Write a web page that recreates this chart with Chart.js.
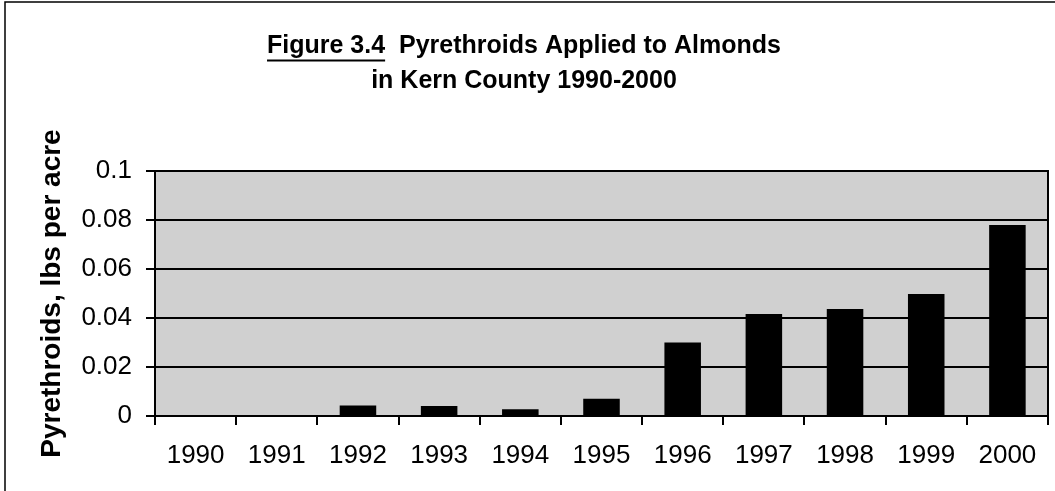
<!DOCTYPE html>
<html>
<head>
<meta charset="utf-8">
<title>Figure 3.4</title>
<script src="https://cdn.jsdelivr.net/npm/chart.js@4.4.0/dist/chart.umd.min.js"></script>
<style>
    body { margin: 0; background: #fff; }
    #contenedor { width: 1055px; height: 491px; position: relative; }
</style>
</head>
<body>
<div id="contenedor"><canvas id="graficaBarras"></canvas></div>
<script>
// Datos
const anios = ['1990', '1991', '1992', '1993', '1994', '1995', '1996', '1997', '1998', '1999', '2000'];
const valoresPiretroides = [0, 0, 0.0043, 0.0041, 0.0028, 0.007, 0.030, 0.0416, 0.0437, 0.0498, 0.078];
const etiquetasY = ['0', '0.02', '0.04', '0.06', '0.08', '0.1'];
const lineasTitulo = ['Figure 3.4  Pyrethroids Applied to Almonds', 'in Kern County 1990-2000'];
const textoSubrayado = 'Figure 3.4';
const tituloEjeY = 'Pyrethroids, lbs per acre';

const fuente = "'Liberation Sans', Arial, sans-serif";

// Fondo gris del área y marco negro
const fondoArea = {
    id: 'fondoArea',
    beforeDraw(chart) {
        const { ctx, chartArea: a } = chart;
        ctx.save();
        ctx.fillStyle = '#d0d0d0';
        ctx.fillRect(a.left, a.top, a.right - a.left, a.bottom - a.top);
        ctx.restore();
    },
    afterDatasetsDraw(chart) {
        const { ctx, chartArea: a } = chart;
        ctx.save();
        ctx.strokeStyle = '#000';
        ctx.lineWidth = 2;
        ctx.strokeRect(a.left, a.top, a.right - a.left, a.bottom - a.top);
        ctx.restore();
    }
};

// Subrayado de "Figure 3.4" y marco exterior de la figura
const subrayado = {
    id: 'subrayado',
    afterDraw(chart) {
        const ctx = chart.ctx;
        const t = chart.titleBlock;
        const op = chart.options.plugins.title;
        ctx.save();
        ctx.font = `bold ${op.font.size}px ${fuente}`;
        const anchoLinea = ctx.measureText(lineasTitulo[0]).width;
        const anchoSub = ctx.measureText(textoSubrayado).width;
        const centro = (t.left + t.right) / 2;
        const y = t.top + op.padding.top + op.font.size * op.font.lineHeight / 2 + 14;
        ctx.strokeStyle = '#000';
        ctx.lineWidth = 2;
        ctx.beginPath();
        ctx.moveTo(centro - anchoLinea / 2, y);
        ctx.lineTo(centro - anchoLinea / 2 + anchoSub, y);
        ctx.stroke();

        ctx.lineWidth = 1.5;
        ctx.beginPath();
        ctx.moveTo(5, 491);
        ctx.lineTo(5, 2);
        ctx.lineTo(1055, 2);
        ctx.stroke();
        ctx.restore();
    }
};

function crearGrafica() {
    const ctx = document.getElementById('graficaBarras').getContext('2d');
    return new Chart(ctx, {
        type: 'bar',
        data: {
            labels: anios,
            datasets: [{
                label: 'Pyrethroids',
                data: valoresPiretroides,
                backgroundColor: '#000',
                borderWidth: 0,
                barPercentage: 0.45,
                categoryPercentage: 1
            }]
        },
        options: {
            responsive: true,
            maintainAspectRatio: false,
            animation: false,
            layout: { padding: { left: 0, right: 7, top: 0, bottom: 0 } },
            plugins: {
                legend: { display: false },
                tooltip: { enabled: false },
                title: {
                    display: true,
                    text: lineasTitulo,
                    color: '#000',
                    font: { family: fuente, size: 25, weight: 'bold', lineHeight: 1.4 },
                    padding: { top: 29, bottom: 72 }
                }
            },
            scales: {
                x: {
                    grid: { drawOnChartArea: false, color: '#000', lineWidth: 2, tickLength: 9 },
                    border: { color: '#000', width: 2 },
                    ticks: { color: '#000', font: { family: fuente, size: 26 }, padding: 15, maxRotation: 0 },
                    afterFit(escala) { escala.height = 75; }
                },
                y: {
                    min: 0,
                    max: 0.1,
                    grid: { color: '#000', lineWidth: 2, tickLength: 9 },
                    border: { color: '#000', width: 2 },
                    ticks: {
                        stepSize: 0.02,
                        color: '#000',
                        font: { family: fuente, size: 26 },
                        padding: 14,
                        callback: (valor, i) => etiquetasY[i]
                    },
                    title: {
                        display: true,
                        text: tituloEjeY,
                        color: '#000',
                        font: { family: fuente, size: 28, weight: 'bold' },
                        padding: { top: 35, bottom: 0 }
                    },
                    afterFit(escala) { escala.width = 155; }
                }
            }
        },
        plugins: [fondoArea, subrayado]
    });
}

crearGrafica();
</script>
</body>
</html>
